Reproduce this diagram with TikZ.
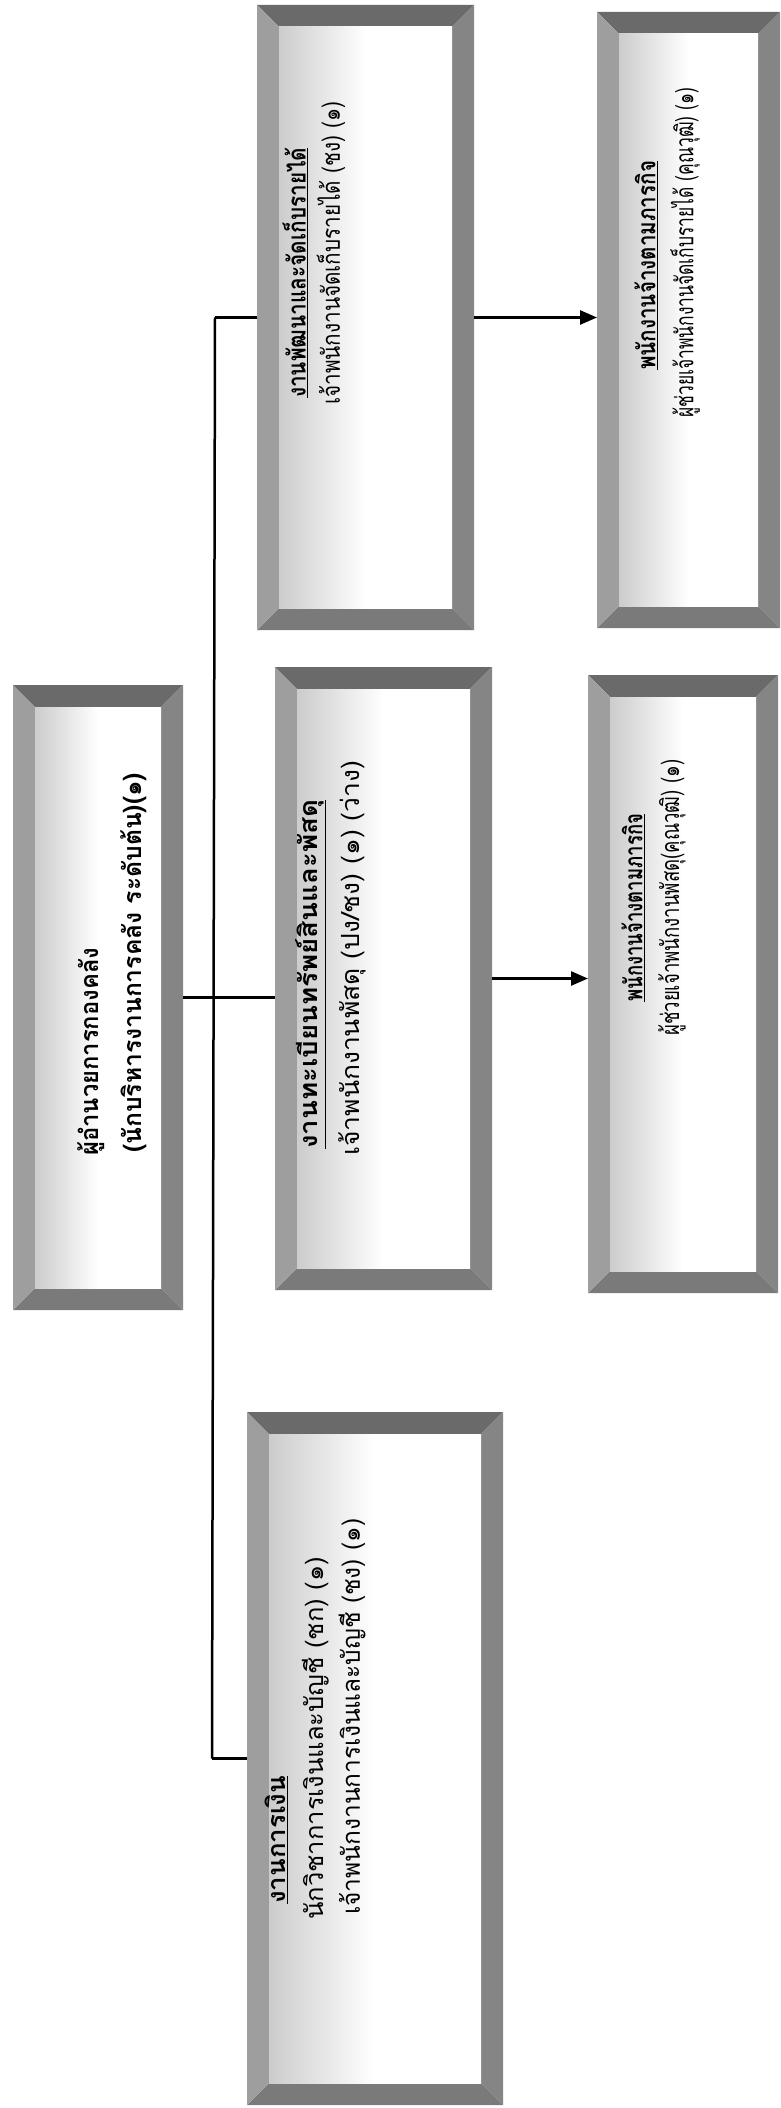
\documentclass[tikz,border=0pt]{standalone}
\usepackage{fontspec}
\usepackage{graphicx}
\newfontfamily\thai[Script=Thai]{Loma}
\usetikzlibrary{arrows.meta,calc}
\pgfdeclarehorizontalshading{bevfill}{100bp}{color(0bp)=(black!40); color(50bp)=(white); color(85bp)=(white); color(100bp)=(black!12)}
\definecolor{bevtopc}{HTML}{6A6A6A}
\definecolor{bevrightc}{HTML}{858585}
\definecolor{bevbotc}{HTML}{7A7A7A}
\definecolor{bevleftc}{HTML}{9E9E9E}
\newcommand{\fitw}[2]{\resizebox{#1pt}{\height}{#2}}
\tikzset{
  bevbox/.style={rectangle, inner sep=0pt, outer sep=0pt, path picture={
    \path (path picture bounding box.north west) coordinate (pNW)
          (path picture bounding box.north east) coordinate (pNE)
          (path picture bounding box.south east) coordinate (pSE)
          (path picture bounding box.south west) coordinate (pSW);
    \path ($(pNW)+(22pt,-22pt)$) coordinate (iNW)
          ($(pNE)+(-22pt,-22pt)$) coordinate (iNE)
          ($(pSE)+(-22pt,22pt)$) coordinate (iSE)
          ($(pSW)+(22pt,22pt)$) coordinate (iSW);
    \fill[bevtopc] (pNW) -- (pNE) -- (iNE) -- (iNW) -- cycle;
    \fill[bevrightc] (pNE) -- (pSE) -- (iSE) -- (iNE) -- cycle;
    \fill[bevbotc] (pSE) -- (pSW) -- (iSW) -- (iSE) -- cycle;
    \fill[bevleftc] (pSW) -- (pNW) -- (iNW) -- (iSW) -- cycle;
    \shade[shading=bevfill] (iNW) rectangle (iSE);
  }},
  lbl/.style={rotate=90, anchor=west, inner sep=0pt, font=\thai\fontsize{25}{30}\selectfont},
  ttl/.style={rotate=90, anchor=west, inner sep=0pt, font=\thai\bfseries\fontsize{25}{30}\selectfont},
  conn/.style={line width=2.5pt, black},
  arr/.style={conn, -{Triangle[length=17pt,width=14pt]}}
}
\begin{document}
\begin{tikzpicture}[x=1pt,y=-1pt]
\useasboundingbox (0,0) rectangle (781,2108);
\fill[white] (0,0) rectangle (781,2108);
% boxes
\node[bevbox, minimum width=170pt, minimum height=625pt] (b1) at (98,997.5) {};
\node[bevbox, minimum width=256pt, minimum height=693pt] (b2) at (375,1758.5) {};
\node[bevbox, minimum width=217pt, minimum height=623pt] (b3) at (383.5,978.5) {};
\node[bevbox, minimum width=217pt, minimum height=625pt] (b4) at (365.5,317.5) {};
\node[bevbox, minimum width=190pt, minimum height=618pt] (b5) at (683,984) {};
\node[bevbox, minimum width=183pt, minimum height=616pt] (b6) at (688.5,320) {};
% texts
\node[ttl] (t1a) at (91,1156) {\fitw{208}{ผู้อำนวยการกองคลัง}};
\node[ttl] (t1b) at (134,1153) {\fitw{380}{(นักบริหารงานการคลัง ระดับต้น)(๑)}};
\node[ttl] (t2a) at (276,1904) {\fitw{128}{\underline{งานการเงิน}}};
\node[lbl] (t2b) at (316,1920) {\fitw{363}{นักวิชาการเงินและบัญชี (ชก) (๑)}};
\node[lbl] (t2c) at (352,1915) {\fitw{396}{เจ้าพนักงานการเงินและบัญชี (ชง) (๑)}};
\node[ttl] (t3a) at (311,1149) {\fitw{349}{\underline{งานทะเบียนทรัพย์สินและพัสดุ}}};
\node[lbl] (t3b) at (352,1156) {\fitw{395}{เจ้าพนักงานพัสดุ (ปง/ชง) (๑) (ว่าง)}};
\node[ttl] (t4a) at (295,398) {\fitw{250}{\underline{งานพัฒนาและจัดเก็บรายได้}}};
\node[lbl] (t4b) at (331,405) {\fitw{303}{เจ้าพนักงานจัดเก็บรายได้ (ชง) (๑)}};
\node[ttl] (t5a) at (633,1002) {\fitw{188}{\underline{พนักงานจ้างตามภารกิจ}}};
\node[lbl] (t5b) at (672,1036) {\fitw{276}{ผู้ช่วยเจ้าพนักงานพัสดุ(คุณวุฒิ) (๑)}};
\node[ttl] (t6a) at (646,370) {\fitw{209}{\underline{พนักงานจ้างตามภารกิจ}}};
\node[lbl] (t6b) at (685,418) {\fitw{330}{ผู้ช่วยเจ้าพนักงานจัดเก็บรายได้ (คุณวุฒิ) (๑)}};
% connectors
\coordinate (bt) at (b4.west -| 215,0);
\coordinate (bb) at (b2.west -| 212,0);
\draw[conn] (bt) -- (bb);
\draw[conn] (bt) -- (bt -| b4.west);
\draw[conn] (bb) -- (bb -| b2.west);
\draw[conn] (b1.east) -- (b1.east -| b3.west);
\draw[arr] (b3.east) -- (b3.east -| b5.west);
\draw[arr] (b4.east) -- (b4.east -| b6.west);
\end{tikzpicture}
\end{document}
